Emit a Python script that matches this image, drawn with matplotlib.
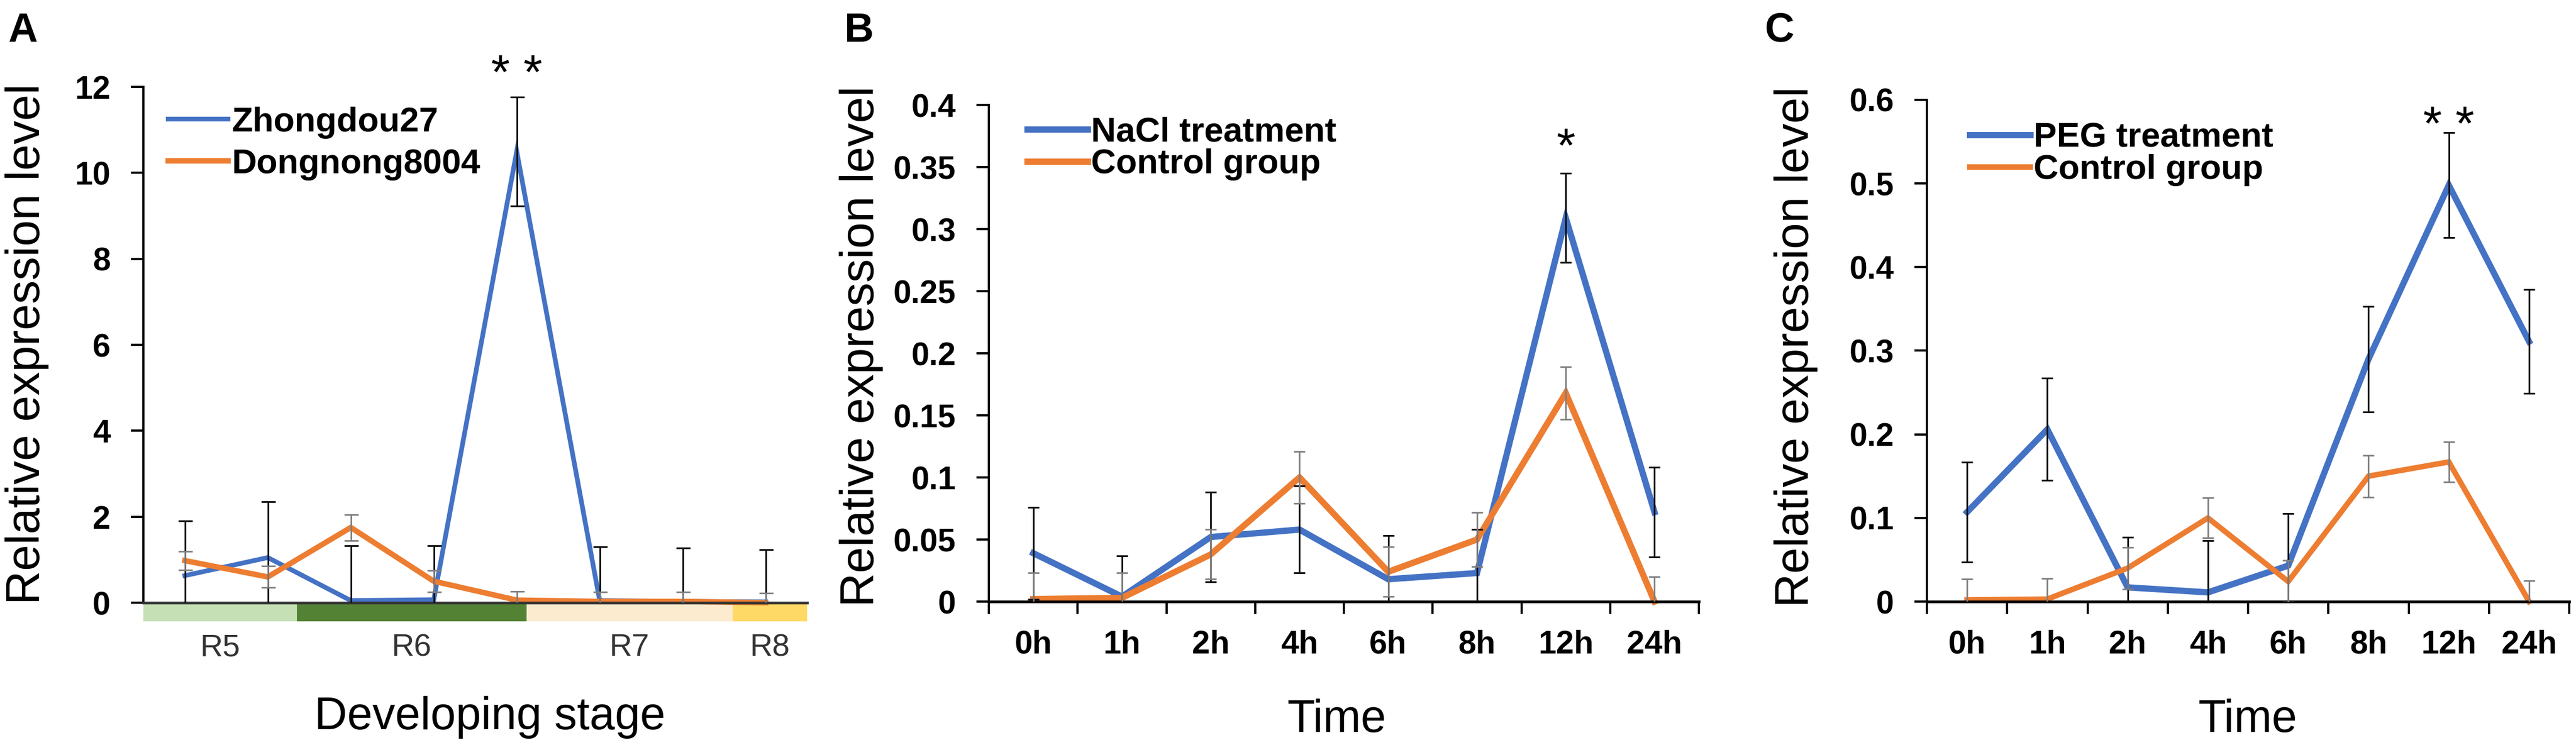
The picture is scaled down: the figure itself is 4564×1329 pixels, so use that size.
import matplotlib
matplotlib.use("Agg")
import matplotlib.pyplot as plt
from matplotlib.patches import Rectangle
from matplotlib.transforms import blended_transform_factory
import numpy as np

plt.rcParams['font.family'] = ['Liberation Sans', 'DejaVu Sans']

# ---------------- data ----------------
# Panel A: developing stage (8 sampling points)
a_zhongdou = [0.63, 1.05, 0.05, 0.07, 10.5, 0.05, 0.03, 0.02]
a_zhongdou_err = [1.27, 1.30, 1.27, 1.25, 1.27, 1.25, 1.25, 1.22]
a_dongnong = [0.98, 0.60, 1.75, 0.50, 0.06, 0.03, 0.03, 0.0]
a_dongnong_err = [0.22, 0.25, 0.30, 0.25, 0.20, 0.22, 0.22, 0.22]
a_yticks = [0, 2, 4, 6, 8, 10, 12]
a_yticklabels = ['0', '2', '4', '6', '8', '10', '12']
stage_names = ['R5', 'R6', 'R7', 'R8']
stage_bounds = [-0.5, 1.35, 4.12, 6.6, 7.5]
stage_colors = ['#c5e0b4', '#548235', '#fdebd0', '#ffd966']

# Panel B: NaCl
time_labels = ['0h', '1h', '2h', '4h', '6h', '8h', '12h', '24h']
b_nacl = [0.039, 0.004, 0.052, 0.058, 0.018, 0.023, 0.309, 0.072]
b_nacl_err = [0.037, 0.033, 0.036, 0.035, 0.035, 0.035, 0.036, 0.036]
b_ctrl = [0.002, 0.003, 0.038, 0.100, 0.024, 0.050, 0.168, 0.0]
b_ctrl_err = [0.021, 0.020, 0.020, 0.021, 0.020, 0.022, 0.021, 0.020]
b_yticks = [0, 0.05, 0.1, 0.15, 0.2, 0.25, 0.3, 0.35, 0.4]
b_yticklabels = ['0', '0.05', '0.1', '0.15', '0.2', '0.25', '0.3', '0.35', '0.4']

# Panel C: PEG
c_peg = [0.107, 0.206, 0.017, 0.011, 0.043, 0.290, 0.498, 0.311]
c_peg_err = [0.060, 0.061, 0.060, 0.062, 0.062, 0.063, 0.063, 0.062]
c_ctrl = [0.002, 0.003, 0.040, 0.100, 0.024, 0.150, 0.167, 0.0]
c_ctrl_err = [0.025, 0.025, 0.025, 0.024, 0.025, 0.025, 0.024, 0.025]
c_yticks = [0, 0.1, 0.2, 0.3, 0.4, 0.5, 0.6]
c_yticklabels = ['0', '0.1', '0.2', '0.3', '0.4', '0.5', '0.6']

# ---------------- figure ----------------
W, H = 4564, 1329
DPI = 100
fig = plt.figure(figsize=(W / DPI, H / DPI), dpi=DPI)

BLUE = '#4472c4'
ORANGE = '#ed7d31'


def fxp(px):
    return px / W


def fyp(py):
    return 1 - py / H


def add_axes_px(left, right, top, bottom):
    return fig.add_axes([left / W, 1 - bottom / H, (right - left) / W, (bottom - top) / H])


def style_axes(ax, yticks, yticklabels, ylim):
    for s in ['top', 'right']:
        ax.spines[s].set_visible(False)
    ax.spines['left'].set_linewidth(2.8)
    ax.spines['bottom'].set_linewidth(3.4)
    ax.set_ylim(*ylim)
    ax.set_xlim(-0.5, 7.5)
    ax.set_yticks(yticks)
    ax.set_yticklabels(yticklabels, fontsize=41, fontweight='bold')
    ax.tick_params(axis='y', direction='out', length=16, width=2.8, pad=26)


def draw_series(ax, y1, e1, y2, e2, lw1, lw2, labels, cap=9):
    x = np.arange(len(y1))
    ax.plot(x, y1, color=BLUE, lw=lw1, label=labels[0], zorder=2, clip_on=False,
            solid_joinstyle='miter')
    ax.plot(x, y2, color=ORANGE, lw=lw2, label=labels[1], zorder=2.1, clip_on=False,
            solid_joinstyle='miter')
    ax.errorbar(x, y1, yerr=e1, fmt='none', ecolor='#111111', elinewidth=2.2,
                capsize=cap, capthick=2.2, zorder=3)
    ax.errorbar(x, y2, yerr=e2, fmt='none', ecolor='#7f7f7f', elinewidth=2.0,
                capsize=cap, capthick=2.0, zorder=3)


def add_legend(ax, xa, ya, spacing, size):
    ax.legend(loc='upper left', bbox_to_anchor=(xa, ya), frameon=False,
              borderpad=0, borderaxespad=0, handlelength=1.75, handletextpad=0.1,
              labelspacing=spacing, prop={'size': size, 'weight': 'bold'})


# ---------------- Panel A ----------------
axA = add_axes_px(254, 1430, 154, 1068)
style_axes(axA, a_yticks, a_yticklabels, (0, 12))
axA.set_xticks([])
axA.spines['bottom'].set_color('#333333')
draw_series(axA, a_zhongdou, a_zhongdou_err, a_dongnong, a_dongnong_err,
            6.0, 7.0, ['Zhongdou27', 'Dongnong8004'], cap=9)
add_legend(axA, 0.037, 0.962, 0.28, 44)
trA = blended_transform_factory(axA.transData, axA.transAxes)
for i in range(len(stage_names)):
    x0, x1 = stage_bounds[i], stage_bounds[i + 1]
    axA.add_patch(Rectangle((x0, -0.036), x1 - x0, 0.036, transform=trA,
                            color=stage_colors[i], clip_on=False, zorder=1, lw=0))
    axA.text((x0 + x1) / 2, -0.088, stage_names[i], transform=trA, ha='center',
             va='center', fontsize=40, color='#333333')
axA.text(4, 12.25, '* *', ha='center', va='center', fontsize=62, clip_on=False)

fig.text(fxp(48), fyp(610), 'Relative expression level', rotation=90,
         ha='center', va='center', fontsize=60)
fig.text(fxp(868), fyp(1271), 'Developing stage', ha='center', va='center', fontsize=58)
fig.text(fxp(14), fyp(21), 'A', ha='left', va='top', fontsize=52, fontweight='bold')


# ---------------- Panels B and C ----------------
def time_axes(ax):
    ax.set_xticks(np.arange(8))
    ax.set_xticklabels(time_labels, fontsize=41, fontweight='bold')
    ax.set_xticks(np.arange(-0.5, 8.0, 1.0), minor=True)
    ax.tick_params(axis='x', which='major', length=0, pad=36)
    ax.tick_params(axis='x', which='minor', direction='out', length=16, width=2.8)


axB = add_axes_px(1752, 3010, 186, 1066)
style_axes(axB, b_yticks, b_yticklabels, (0, 0.4))
time_axes(axB)
draw_series(axB, b_nacl, b_nacl_err, b_ctrl, b_ctrl_err, 8, 8,
            ['NaCl treatment', 'Control group'], cap=7)
add_legend(axB, 0.054, 0.977, 0.0, 44)
axB.text(6, 0.364, '*', ha='center', va='center', fontsize=62, clip_on=False)
fig.text(fxp(1526), fyp(614), 'Relative expression level', rotation=90,
         ha='center', va='center', fontsize=60)
fig.text(fxp(2368), fyp(1276), 'Time', ha='center', va='center', fontsize=58)
fig.text(fxp(1495), fyp(21), 'B', ha='left', va='top', fontsize=52, fontweight='bold')

axC = add_axes_px(3414, 4552, 177, 1066)
style_axes(axC, c_yticks, c_yticklabels, (0, 0.6))
time_axes(axC)
draw_series(axC, c_peg, c_peg_err, c_ctrl, c_ctrl_err, 8, 7,
            ['PEG treatment', 'Control group'], cap=7)
add_legend(axC, 0.067, 0.956, 0.0, 44)
axC.text(6, 0.567, '* *', ha='center', va='center', fontsize=62, clip_on=False)
fig.text(fxp(3182), fyp(615), 'Relative expression level', rotation=90,
         ha='center', va='center', fontsize=60)
fig.text(fxp(3982), fyp(1276), 'Time', ha='center', va='center', fontsize=58)
fig.text(fxp(3127), fyp(21), 'C', ha='left', va='top', fontsize=52, fontweight='bold')

fig.savefig('out.png', dpi=DPI, facecolor='white')
